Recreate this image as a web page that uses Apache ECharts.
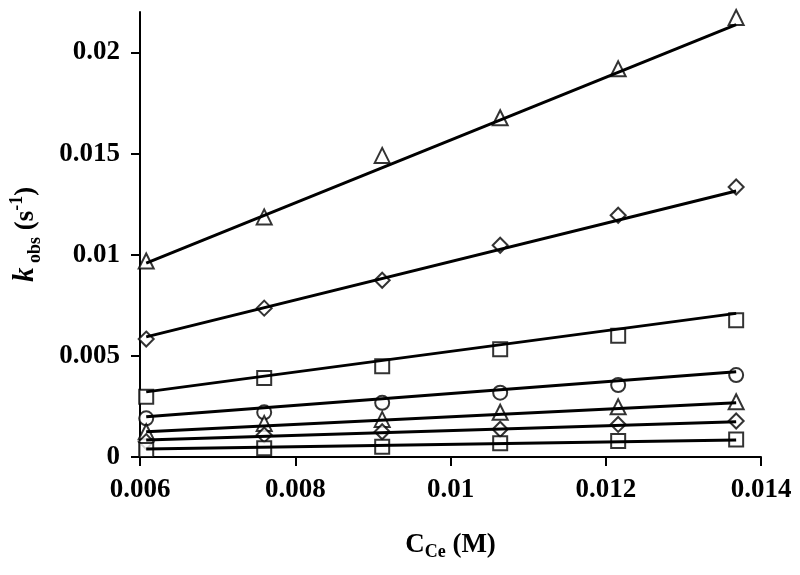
<!DOCTYPE html>
<html>
<head>
<meta charset="utf-8">
<script src="https://cdn.jsdelivr.net/npm/echarts@6/dist/echarts.min.js"></script>
<style>
  html, body { margin: 0; padding: 0; background: #fff; }
  #chart { width: 800px; height: 575px; }
</style>
</head>
<body>
<div id="chart"></div>
<script>
// concentration of Ce (M)
const xValues = [0.00608, 0.0076, 0.00912, 0.01064, 0.01216, 0.01368]

// kobs (s-1), one array per data set, top to bottom
const triBig = [0.00969, 0.01187, 0.01491, 0.01677, 0.01919, 0.02173]
const diaBig = [0.00583, 0.00736, 0.00874, 0.01047, 0.01195, 0.01335]
const sqBig = [0.00298, 0.0039, 0.00449, 0.00533, 0.00599, 0.00676]
const circ = [0.00191, 0.00221, 0.00268, 0.00318, 0.00356, 0.00405]
const triSmall = [0.00125, 0.00166, 0.00186, 0.00221, 0.00248, 0.00273]
const diaSmall = [0.00076, 0.00109, 0.00125, 0.00137, 0.00161, 0.00178]
const sqSmall = [0.00035, 0.00043, 0.00051, 0.00068, 0.00079, 0.00087]

// fitted lines: [y at first x, y at last x]
const fitTriBig = [0.00958, 0.02138]
const fitDiaBig = [0.00594, 0.01315]
const fitSqBig = [0.00322, 0.0071]
const fitCirc = [0.00199, 0.00421]
const fitTriSmall = [0.00125, 0.00268]
const fitDiaSmall = [0.00084, 0.00174]
const fitSqSmall = [0.0004, 0.00084]

const yTicks = [0, 0.005, 0.01, 0.015, 0.02]

const font = 'Liberation Serif'

const sets = [
  { data: triBig, fit: fitTriBig, symbol: 'emptyTriangle', size: 15 },
  { data: diaBig, fit: fitDiaBig, symbol: 'emptyDiamond', size: 15 },
  { data: sqBig, fit: fitSqBig, symbol: 'emptyRect', size: 14 },
  { data: circ, fit: fitCirc, symbol: 'emptyCircle', size: 14 },
  { data: triSmall, fit: fitTriSmall, symbol: 'emptyTriangle', size: 15 },
  { data: diaSmall, fit: fitDiaSmall, symbol: 'emptyDiamond', size: 15 },
  { data: sqSmall, fit: fitSqSmall, symbol: 'emptyRect', size: 14 }
]

const series = []
sets.forEach(s => {
  series.push({
    type: 'scatter',
    data: s.data.map((v, i) => [xValues[i], v]),
    symbol: s.symbol,
    symbolSize: s.size,
    itemStyle: { color: '#000', borderColor: '#000', borderWidth: 1.2 },
    z: 2,
    silent: true
  })
  series.push({
    type: 'line',
    data: [[xValues[0], s.fit[0]], [xValues[xValues.length - 1], s.fit[1]]],
    showSymbol: false,
    lineStyle: { color: '#000', width: 3 },
    z: 3,
    silent: true
  })
})

const chart = echarts.init(document.getElementById('chart'))
chart.setOption({
  animation: false,
  backgroundColor: '#fff',
  grid: { left: 137, right: 39, top: 12, bottom: 118 },
  xAxis: {
    type: 'value',
    min: 0.006,
    max: 0.014,
    interval: 0.002,
    splitLine: { show: false },
    axisLine: { lineStyle: { color: '#000', width: 2 } },
    axisTick: { inside: false, length: 9, lineStyle: { color: '#000', width: 2 } },
    axisLabel: { color: '#000', fontFamily: font, fontWeight: 'bold', fontSize: 27, margin: 20 },
    name: '{n|C}{sub|Ce}{n| (M)}',
    nameLocation: 'middle',
    nameGap: 72,
    nameTextStyle: {
      rich: {
        n: { fontFamily: font, fontWeight: 'bold', fontSize: 27, color: '#000', lineHeight: 32 },
        sub: { fontFamily: font, fontWeight: 'bold', fontSize: 18, color: '#000', verticalAlign: 'bottom', lineHeight: 24 }
      }
    }
  },
  yAxis: {
    type: 'value',
    min: 0,
    max: 0.022,
    splitLine: { show: false },
    axisLine: { lineStyle: { color: '#000', width: 2 } },
    axisTick: { inside: false, length: 9, customValues: yTicks, lineStyle: { color: '#000', width: 2 } },
    axisLabel: { customValues: yTicks, color: '#000', fontFamily: font, fontWeight: 'bold', fontSize: 27, margin: 20 },
    name: '{k|k}{sub| obs}{n| (s}{sup|-1}{n|)}',
    nameLocation: 'middle',
    nameGap: 96,
    nameRotate: 90,
    nameTextStyle: {
      rich: {
        k: { fontFamily: font, fontWeight: 'bold', fontStyle: 'italic', fontSize: 29, color: '#000', lineHeight: 36 },
        n: { fontFamily: font, fontWeight: 'bold', fontSize: 27, color: '#000', lineHeight: 36 },
        sub: { fontFamily: font, fontWeight: 'bold', fontSize: 18, color: '#000', verticalAlign: 'bottom', lineHeight: 26 },
        sup: { fontFamily: font, fontWeight: 'bold', fontSize: 18, color: '#000', verticalAlign: 'top', lineHeight: 26 }
      }
    }
  },
  series: series
})
</script>
</body>
</html>
